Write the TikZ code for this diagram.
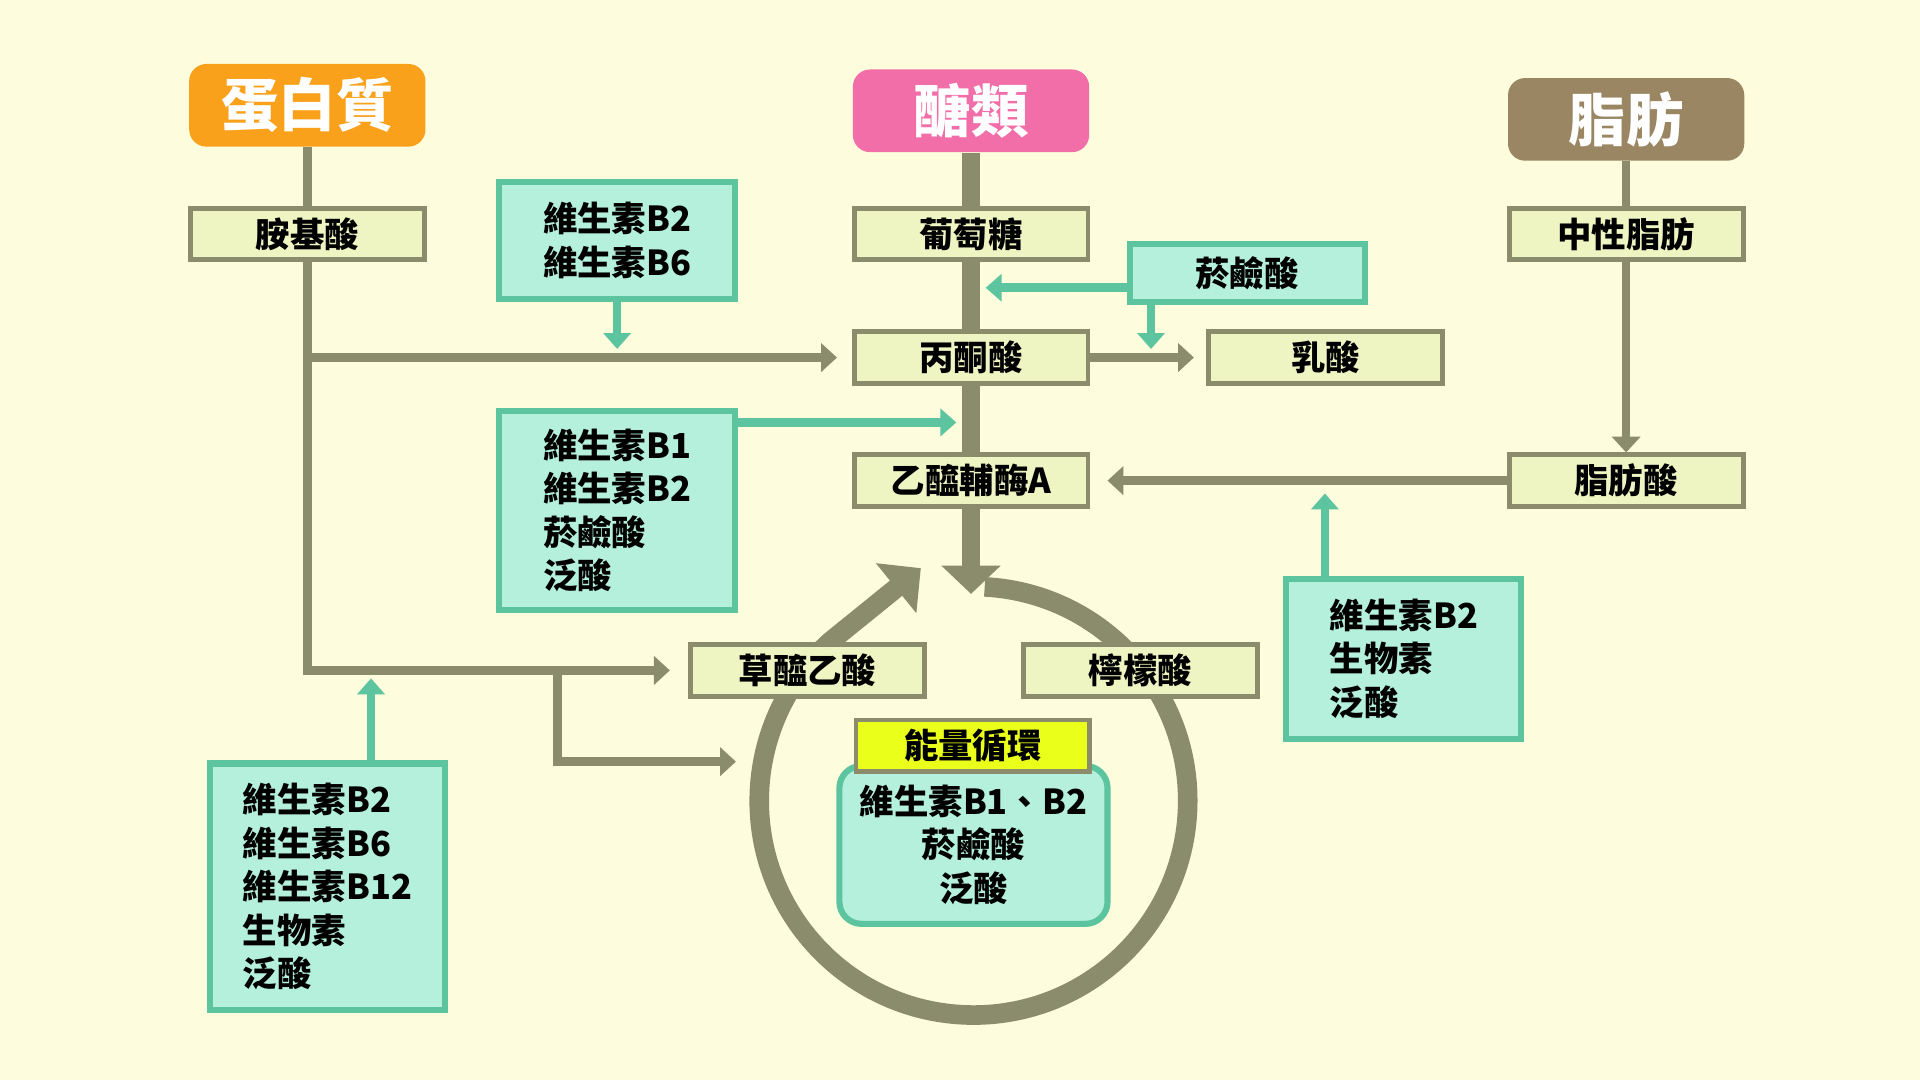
\documentclass[tikz,border=0pt]{standalone}
\usepackage{fontspec}
\setmainfont{Noto Sans CJK TC}
\usetikzlibrary{arrows.meta}

\definecolor{bgcream}{HTML}{FDFCDC}
\definecolor{lineolive}{HTML}{8A8C6C}
\definecolor{boxpale}{HTML}{EEF4C2}
\definecolor{vitfill}{HTML}{B5F0DC}
\definecolor{vitline}{HTML}{5CC49F}
\definecolor{protorange}{HTML}{F9A11B}
\definecolor{sugarpink}{HTML}{F26EA8}
\definecolor{fatbrown}{HTML}{9A8663}
\definecolor{cycyellow}{HTML}{EAFF1A}

\begin{document}
\begin{tikzpicture}[x=0.02cm,y=-0.02cm,
  every node/.style={font=\bfseries\fontsize{16pt}{20.2pt}\selectfont, inner sep=0pt},
  srcbox/.style={rounded corners=0.28cm, text=white, minimum width=3.86cm, minimum height=1.35cm,
    font=\bfseries\fontsize{26.7pt}{30pt}\selectfont},
  stepbox/.style={draw=lineolive, fill=boxpale, line width=0.08cm, minimum width=3.82cm, minimum height=0.84cm},
  vitbox/.style={draw=vitline, fill=vitfill, line width=0.1cm, align=left},
  link/.style={draw=lineolive, line width=0.14cm},
  flow/.style={link, -{Triangle[width=0.46cm,length=0.26cm]}},
  vit/.style={draw=vitline, line width=0.14cm, -{Triangle[width=0.44cm,length=0.26cm]}},
  mainflow/.style={draw=lineolive, line width=0.3cm},
  cycarrow/.style={draw=lineolive, line width=0.32cm, -{Triangle[width=1.02cm,length=0.52cm]}}
]
\fill[bgcream] (0,0) rectangle (1568,882);

% cycle ring
\coordinate (cycC) at (795,654);
\coordinate (cycTip) at (752,464);
\draw[cycarrow] ([shift={(87:3.5cm)}]cycC) arc[start angle=87, end angle=-228, radius=3.5cm] -- (cycTip);

% sources
\node[srcbox, fill=protorange] (prot) at (251,86) {蛋白質};
\node[srcbox, fill=sugarpink] (sugar) at (793,90.5) {醣類};
\node[srcbox, fill=fatbrown] (fat) at (1328,97.5) {脂肪};

% steps
\node[stepbox] (amino) at (251,191) {胺基酸};
\node[stepbox] (gluc) at (793,191) {葡萄糖};
\node[stepbox] (tg) at (1328,191) {中性脂肪};
\node[stepbox] (pyr) at (793,292) {丙酮酸};
\node[stepbox] (lac) at (1082.5,292) {乳酸};
\node[stepbox] (acoa) at (793,392.5) {乙醯輔酶A};
\node[stepbox] (fa) at (1328,392.5) {脂肪酸};
\node[stepbox] (oaa) at (659.5,547.5) {草醯乙酸};
\node[stepbox] (cit) at (931.5,547.5) {檸檬酸};

% vitamins
\node[vitbox, align=center, rounded corners=0.36cm, minimum width=4.38cm, minimum height=2.58cm] (cycvit) at (795,690) {維生素B1、B2\\菸鹼酸\\泛酸};
\node[stepbox, fill=cycyellow] (cycbox) at (794.5,609) {能量循環};
\node[vitbox, minimum width=3.86cm, minimum height=1.92cm] (vB26) at (504,196.5) {維生素B2\\維生素B6};
\node[vitbox, minimum width=3.84cm, minimum height=0.94cm] (vnia) at (1018.5,223) {菸鹼酸};
\node[vitbox, minimum width=3.86cm, minimum height=3.26cm] (vB1) at (504,417) {維生素B1\\維生素B2\\菸鹼酸\\泛酸};
\node[vitbox, minimum width=3.84cm, minimum height=2.62cm] (vfa) at (1146.5,538) {維生素B2\\生物素\\泛酸};
\node[vitbox, minimum width=3.84cm, minimum height=4.02cm] (vprot) at (267.5,724) {維生素B2\\維生素B6\\維生素B12\\生物素\\泛酸};

% protein path
\draw[link] (prot) -- (amino);
\draw[flow, shorten >=0.3cm] (amino) |- (oaa);
\coordinate (aminoP) at (amino |- pyr);
\draw[flow, shorten >=0.24cm] (aminoP) -- (pyr);
\coordinate (oaaS) at (455.5,547.5);
\coordinate (cycL) at (601,622);
\draw[flow] (oaaS) |- (cycL);

% sugar path
\draw[mainflow] (sugar) -- (gluc);
\draw[mainflow] (gluc) -- (pyr);
\draw[mainflow] (pyr) -- (acoa);
\coordinate (cycTop) at (793,485);
\draw[mainflow, -{Triangle[width=0.94cm,length=0.46cm]}] (acoa) -- (cycTop);
\draw[flow, shorten >=0.2cm] (pyr) -- (lac);

% fat path
\draw[link] (fat) -- (tg);
\draw[flow, line width=0.12cm] (tg) -- (fa);
\draw[flow, shorten >=0.28cm] (fa) -- (acoa);

% vitamin arrows
\coordinate (b26D) at (504,285);
\draw[vit] (vB26) -- (b26D);
\coordinate (niaL) at (805,235);
\draw[vit] (vnia.west |- niaL) -- (niaL);
\coordinate (niaD) at (940,285);
\draw[vit] (vnia.south -| niaD) -- (niaD);
\coordinate (b1R) at (781,345);
\draw[vit] (vB1.east |- b1R) -- (b1R);
\coordinate (faU) at (1082,403);
\draw[vit] (vfa.north -| faU) -- (faU);
\coordinate (protU) at (303,554);
\draw[vit] (vprot.north -| protU) -- (protU);
\end{tikzpicture}
\end{document}
